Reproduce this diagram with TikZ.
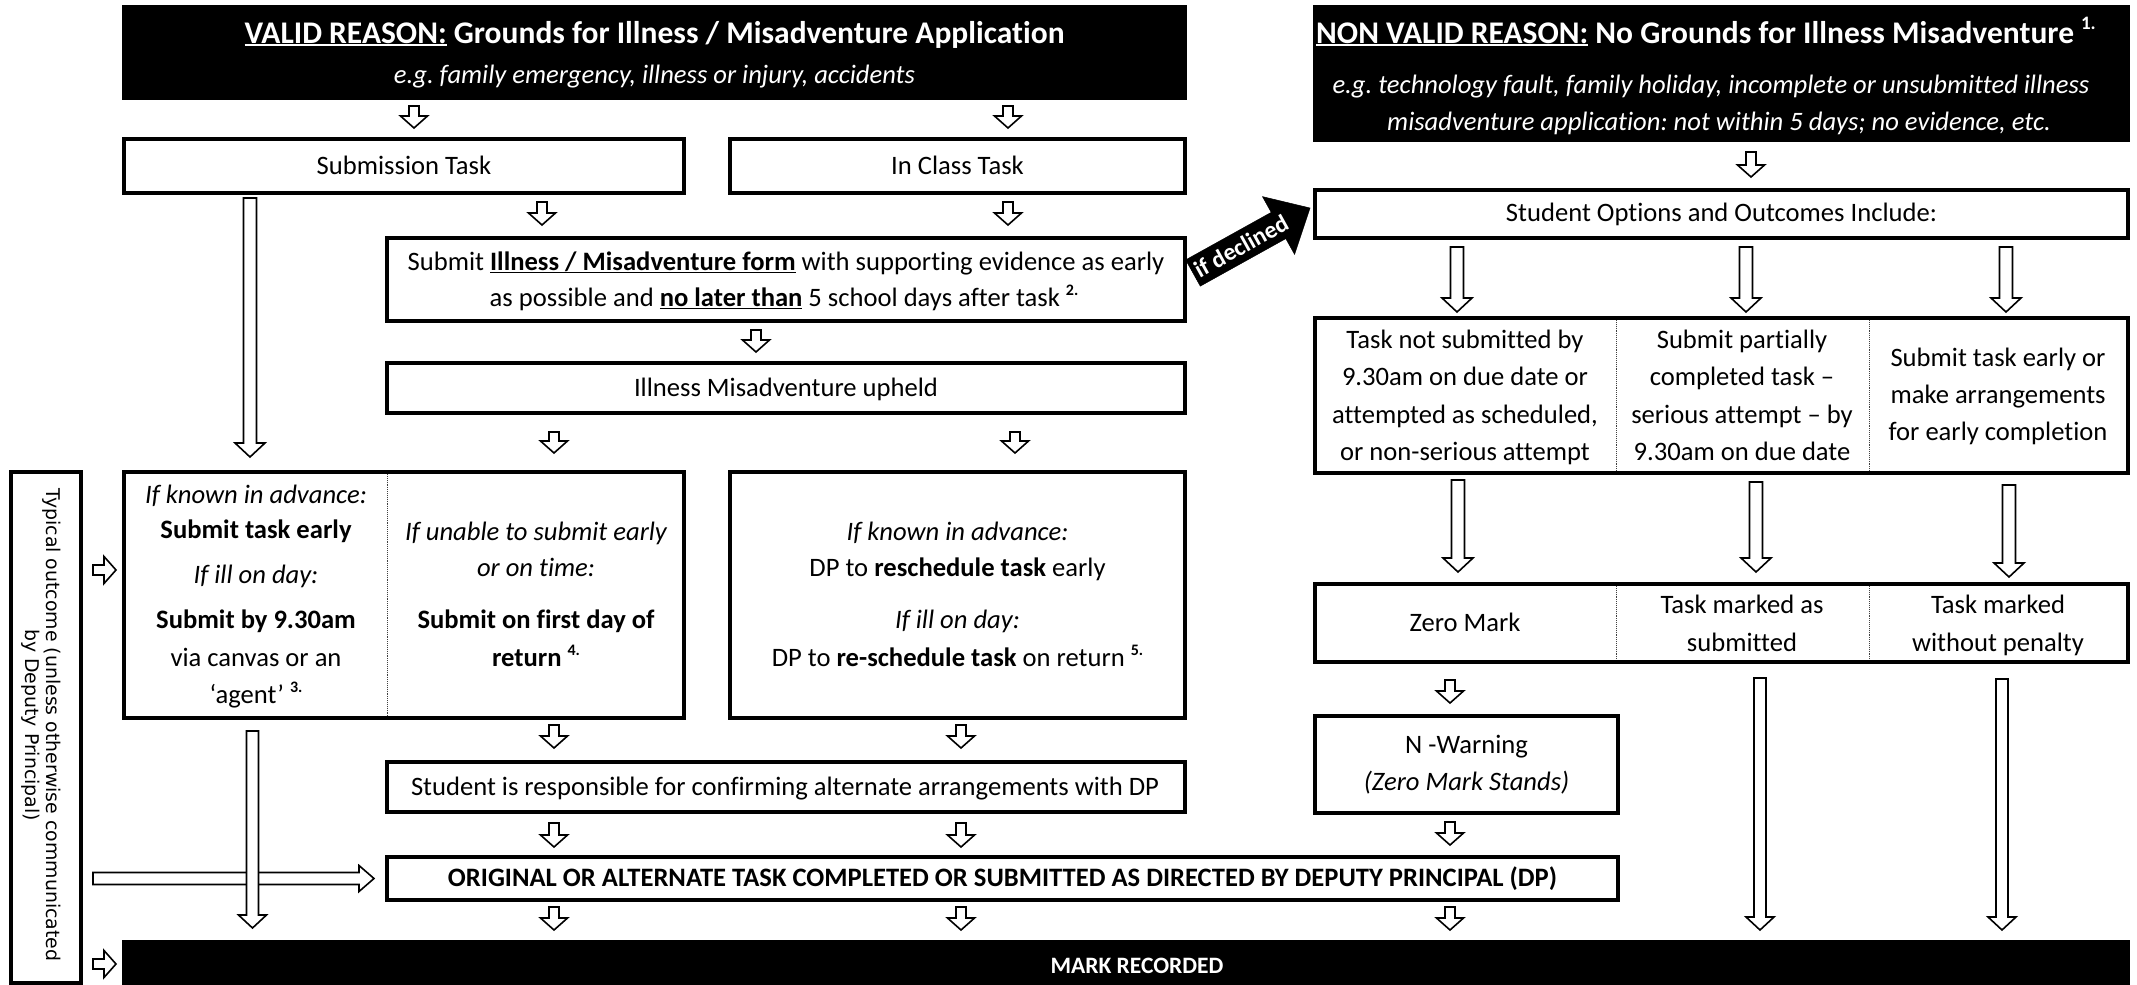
\documentclass[tikz,border=0pt]{standalone}
\usepackage{fontspec}
\setmainfont{Carlito}[Ligatures={TeX,NoCommon}]
\newfontfamily\vfont{DejaVu Sans}
\usetikzlibrary{calc}
\newcommand\myul[1]{\setbox0=\hbox{#1}\leavevmode\rlap{\rule[-0.11em]{\wd0}{0.065em}}\box0\relax}
\newcommand\sps[2][16]{\raisebox{0.42em}{\fontsize{#1}{#1}\selectfont\bfseries #2}}
% block arrow: [style]{start}{end}{shaft half}{head half}{head length}
\newcommand\barrow[6][arr]{%
  \coordinate (bam) at ($(#3)!#6!(#2)$);
  \draw[#1] ($(#2)!#4!90:(#3)$) -- ($(bam)!#4!90:(#3)$) -- ($(bam)!#5!90:(#3)$) -- (#3)
     -- ($(bam)!#5!-90:(#3)$) -- ($(bam)!#4!-90:(#3)$) -- ($(#2)!#4!-90:(#3)$) -- cycle;}
\newcommand\sar[4]{\coordinate (#1s) at (#2,#3); \coordinate (#1e) at (#2,#4); \barrow{#1s}{#1e}{5pt}{13.5pt}{12pt}}
\newcommand\lar[4]{\coordinate (#1s) at (#2,#3); \coordinate (#1e) at (#2,#4); \barrow{#1s}{#1e}{6.5pt}{15pt}{14pt}}
\newcommand\bx[6][box]{\pgfmathsetmacro\bw{#5-#3}\pgfmathsetmacro\bh{#6-#4}%
  \node[#1, minimum width=\bw pt, minimum height=\bh pt, anchor=north west] (#2) at (#3,#4) {};}
\tikzset{
  arr/.style={draw=black, fill=white, line width=1.6pt, line join=miter},
  blkarr/.style={draw=black, fill=black, line width=0.5pt, line join=miter},
  box/.style={draw=black, line width=3.5pt, inner sep=0pt, outer sep=0pt, fill=white},
  blk/.style={box, fill=black},
  tx/.style={anchor=base, inner sep=0pt, font=\fontsize{26.6}{32}\selectfont},
  ttl/.style={anchor=base, inner sep=0pt, text=white, font=\fontsize{31.5}{38}\selectfont\bfseries},
  dv/.style={densely dotted, line width=0.9pt, black!75},
}
\begin{document}
\frenchspacing
\begin{tikzpicture}[x=1pt,y=-1pt]
\useasboundingbox (0,0) rectangle (2137,985);
\fill[white] (0,0) rectangle (2137,985);
% ---------- boxes ----------
\bx[blk]{valid}{124}{7}{1185}{98}
\bx[blk]{nonvalid}{1315}{7}{2128}{140}
\bx{sub}{124}{139}{684}{193}
\bx{incls}{730}{139}{1185}{193}
\bx{form}{387}{238}{1185}{321}
\bx{upheld}{387}{363}{1185}{413}
\bx{typical}{11}{472}{81}{983}
\bx{subout}{124}{472}{684}{718}
\bx{clsout}{730}{472}{1185}{718}
\bx{resp}{387}{762}{1185}{812}
\bx{orig}{387}{857}{1618}{900}
\bx[blk]{mark}{124}{942}{2128}{990}
\bx{opts}{1315}{190}{2128}{238}
\bx{optbox}{1315}{318}{2128}{473}
\bx{outbox}{1315}{584}{2128}{662}
\bx{nwarn}{1315}{716}{1618}{813}
% dividers
\draw[dv] (387,474) -- (387,716);
\draw[dv] (1616,320) -- (1616,471);
\draw[dv] (1869,320) -- (1869,471);
\draw[dv] (1616,586) -- (1616,660);
\draw[dv] (1869,586) -- (1869,660);
% ---------- texts ----------
\node[ttl] (vt) at (654.5,43) {\myul{VALID REASON:} Grounds for Illness / Misadventure Application};
\node[tx,text=white] (vs) at (654.5,83.5) {\itshape e.g. family emergency, illness or injury, accidents};
\node[ttl] (nt) at (1706,43) {\myul{NON VALID REASON:} No Grounds for Illness Misadventure \sps[19]{1.}};
\node[tx,text=white] (ns1) at (1711,93.5) {\itshape e.g. technology fault, family holiday, incomplete or unsubmitted illness};
\node[tx,text=white] (ns2) at (1719,130.5) {\itshape misadventure application: not within 5 days; no evidence, etc.};
\node[tx] (subt) at (404,174.5) {Submission Task};
\node[tx] (inct) at (957.5,174.5) {In Class Task};
\node[tx] (f1) at (786,270.5) {Submit \textbf{\myul{Illness / Misadventure form}} with supporting evidence as early};
\node[tx] (f2) at (784,306.5) {as possible and \textbf{\myul{no later than}} 5 school days after task \sps{2.}};
\node[tx] (upt) at (786,396.5) {Illness Misadventure upheld};
% submission outcomes
\node[tx] (s1) at (256,503.5) {\itshape If known in advance:};
\node[tx] (s2) at (256,538.5) {\bfseries Submit task early};
\node[tx] (s3) at (256,583.5) {\itshape If ill on day:};
\node[tx] (s4) at (256,628.5) {\bfseries Submit by 9.30am};
\node[tx] (s5) at (256,666.5) {via canvas or an};
\node[tx] (s6) at (256,703.5) {‘agent’ \sps{3.}};
\node[tx] (u1) at (536,540.5) {\itshape If unable to submit early};
\node[tx] (u2) at (536,576.5) {\itshape or on time:};
\node[tx] (u3) at (536,628.5) {\bfseries Submit on first day of};
\node[tx] (u4) at (536,666.5) {\textbf{return} \sps{4.}};
% in class outcomes
\node[tx] (c1) at (957.5,540.5) {\itshape If known in advance:};
\node[tx] (c2) at (957.5,576.5) {DP to \textbf{reschedule task} early};
\node[tx] (c3) at (957.5,628.5) {\itshape If ill on day:};
\node[tx] (c4) at (957.5,666.5) {DP to \textbf{re-schedule task} on return \sps{5.}};
\node[tx] (respt) at (785,795.5) {Student is responsible for confirming alternate arrangements with DP};
\node[tx] (origt) at (1002.5,886.5) {\bfseries ORIGINAL OR ALTERNATE TASK COMPLETED OR SUBMITTED AS DIRECTED BY DEPUTY PRINCIPAL (DP)};
\node[anchor=base, inner sep=0pt, text=white, font=\fontsize{23.5}{28}\selectfont\bfseries] (markt) at (1137,973) {MARK RECORDED};
\node[rotate=-90, align=center, inner sep=0pt, font=\vfont\fontsize{18.9}{21.5}\selectfont] (typt) at (41,725) {Typical outcome (unless otherwise communicated\\by Deputy Principal)};
% right column
\node[tx] (ot) at (1721.5,221.5) {Student Options and Outcomes Include:};
\node[tx] (o11) at (1465,348.5) {Task not submitted by};
\node[tx] (o12) at (1465,385.5) {9.30am on due date or};
\node[tx] (o13) at (1465,423.5) {attempted as scheduled,};
\node[tx] (o14) at (1465,460.5) {or non-serious attempt};
\node[tx] (o21) at (1742,348.5) {Submit partially};
\node[tx] (o22) at (1742,385.5) {completed task –};
\node[tx] (o23) at (1742,423.5) {serious attempt – by};
\node[tx] (o24) at (1742,460.5) {9.30am on due date};
\node[tx] (o31) at (1998,366.5) {Submit task early or};
\node[tx] (o32) at (1998,403.5) {make arrangements};
\node[tx] (o33) at (1998,440.5) {for early completion};
\node[tx] (r1) at (1465,631.5) {Zero Mark};
\node[tx] (r21) at (1742,613.5) {Task marked as};
\node[tx] (r22) at (1742,651.5) {submitted};
\node[tx] (r31) at (1998,613.5) {Task marked};
\node[tx] (r32) at (1998,651.5) {without penalty};
\node[tx] (nw1) at (1466.5,753.5) {N -Warning};
\node[tx] (nw2) at (1466.5,790.5) {\itshape (Zero Mark Stands)};
% ---------- arrows ----------
\sar{a1}{414}{106}{128}
\sar{a2}{1008}{106}{128}
\sar{a3}{542}{202}{225}
\sar{a4}{1008}{202}{225}
\sar{a5}{756}{330}{352}
\sar{a6}{554}{432}{453}
\sar{a7}{1015}{432}{453}
\sar{a8}{554}{725}{748}
\sar{a9}{961}{725}{748}
\sar{a10}{554}{823}{847}
\sar{a11}{961}{823}{847}
\sar{a12}{554}{907}{930}
\sar{a13}{961}{907}{930}
\sar{a14}{1450}{907}{930}
\sar{a15}{1751}{152}{177}
\sar{a16}{1450}{680}{703}
\sar{a17}{1450}{822}{845}
\coordinate (h1s) at (93,570); \coordinate (h1e) at (116,570);
\barrow{h1s}{h1e}{5pt}{13.5pt}{12pt}
\coordinate (h2s) at (93,964); \coordinate (h2e) at (116,964);
\barrow{h2s}{h2e}{5pt}{13.5pt}{12pt}
\lar{L1}{250}{198}{457}
\coordinate (Hs) at (93,878.5); \coordinate (He) at (374,878.5);
\barrow{Hs}{He}{6pt}{13pt}{15pt}
\coordinate (L2s) at (252.5,731); \coordinate (L2e) at (252.5,928);
\barrow{L2s}{L2e}{6pt}{14pt}{13pt}
\lar{L3}{1457}{247}{312}
\lar{L4}{1746}{247}{312}
\lar{L5}{2006}{247}{312}
\lar{L6}{1458}{480}{572}
\lar{L7}{1756}{482}{572}
\lar{L8}{2009}{485}{577}
\coordinate (L9s) at (1760,678); \coordinate (L9e) at (1760,930);
\barrow{L9s}{L9e}{6pt}{14pt}{13pt}
\coordinate (L10s) at (2002,679); \coordinate (L10e) at (2002,930);
\barrow{L10s}{L10e}{6pt}{14pt}{13pt}
% if declined
\coordinate (ds) at (1193,273); \coordinate (de) at (1310,208);
\barrow[blkarr]{ds}{de}{15pt}{33pt}{36pt}
\node[rotate=29, inner sep=0pt, text=white, font=\fontsize{24}{28}\selectfont\bfseries] (dl) at (1241,246) {if declined};
\end{tikzpicture}
\end{document}
